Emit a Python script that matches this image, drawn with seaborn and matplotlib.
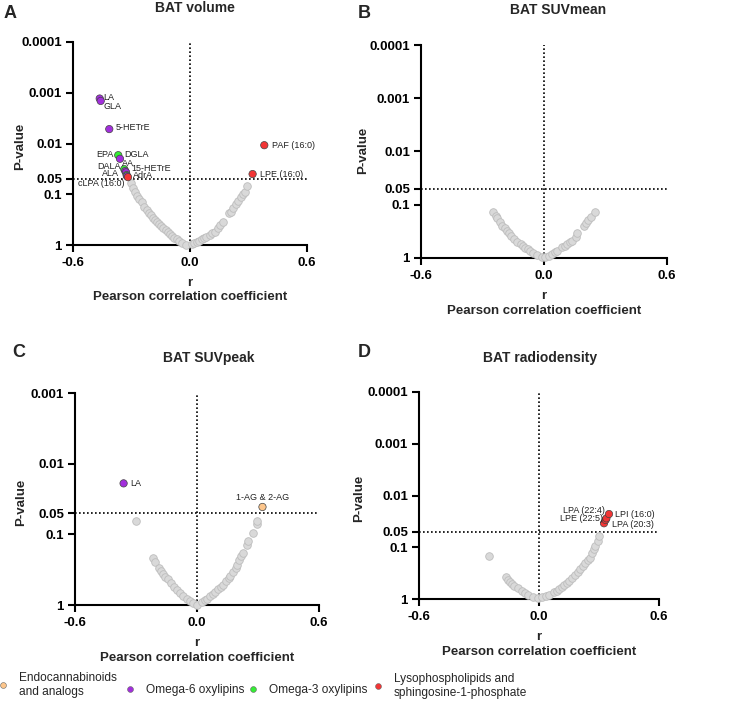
import matplotlib
matplotlib.use("Agg")
import matplotlib.pyplot as plt
from matplotlib.lines import Line2D
from matplotlib.ticker import NullLocator
from matplotlib import font_manager
import pandas as pd
import seaborn as sns

# ---------------- data ----------------
classes = ["Endocannabinoids\nand analogs", "Omega-6 oxylipins", "Omega-3 oxylipins",
           "Lysophospholipids and\nsphingosine-1-phosphate"]
class_colors = ["#FDC68C", "#A22FDC", "#35EC35", "#F23535"]

# Panel A: BAT volume
a_grey_r = [-0.304, -0.294, -0.281, -0.272, -0.260, -0.248, -0.236, -0.222, -0.212, -0.202,
            -0.190, -0.179, -0.168, -0.157, -0.147, -0.137, -0.125, -0.114, -0.104, -0.094,
            -0.080, -0.068, -0.055, -0.043, -0.021,
            0.009, 0.020, 0.034, 0.047, 0.060, 0.070, 0.082, 0.103, 0.115, 0.128, 0.145,
            0.155, 0.168, 0.202, 0.210, 0.222, 0.236, 0.245, 0.260, 0.270, 0.282, 0.294]
a_grey_p = [0.059, 0.076, 0.092, 0.108, 0.125, 0.144, 0.176, 0.204, 0.230, 0.256,
            0.290, 0.321, 0.350, 0.386, 0.430, 0.469, 0.510, 0.562, 0.610, 0.665,
            0.720, 0.773, 0.830, 0.900, 0.980,
            0.970, 0.930, 0.885, 0.830, 0.770, 0.740, 0.706, 0.635, 0.590, 0.546, 0.456,
            0.410, 0.357, 0.238, 0.220, 0.189, 0.156, 0.136, 0.112, 0.100, 0.089, 0.069]
a_hit_names = ["LA", "GLA", "5-HETrE", "EPA", "DGLA", "DALA", "AA", "15-HETrE", "ALA",
               "AdrA", "cLPA (16:0)", "PAF (16:0)", "LPE (16:0)"]
a_hit_r = [-0.463, -0.458, -0.414, -0.368, -0.359, -0.337, -0.332, -0.328, -0.325,
           -0.323, -0.318, 0.381, 0.321]
a_hit_p = [0.0013, 0.00145, 0.0052, 0.017, 0.020, 0.032, 0.035, 0.037, 0.042,
           0.044, 0.046, 0.0108, 0.040]
a_hit_class = [1, 1, 1, 2, 1, 2, 1, 1, 2, 1, 3, 3, 3]

# Panel B: BAT SUVmean
b_grey_r = [-0.247, -0.236, -0.227, -0.215, -0.203, -0.192, -0.182, -0.170, -0.159, -0.145,
            -0.130, -0.114, -0.103, -0.093, -0.080, -0.070, -0.052, -0.032, -0.008,
            0.005, 0.025, 0.041, 0.055, 0.065, 0.090, 0.102, 0.114, 0.127, 0.139, 0.155,
            0.163, 0.195, 0.203, 0.217, 0.228, 0.249]
b_grey_p = [0.135, 0.160, 0.180, 0.214, 0.247, 0.275, 0.307, 0.345, 0.386, 0.440,
            0.494, 0.553, 0.595, 0.640, 0.690, 0.730, 0.790, 0.880, 0.950,
            0.970, 0.900, 0.840, 0.780, 0.730, 0.630, 0.590, 0.550, 0.510, 0.473, 0.409,
            0.344, 0.251, 0.223, 0.194, 0.168, 0.135]

# Panel C: BAT SUVpeak
c_grey_r = [-0.300, -0.218, -0.207, -0.185, -0.177, -0.166, -0.155, -0.144, -0.130, -0.113,
            -0.098, -0.084, -0.068, -0.051, -0.035, -0.021, -0.002,
            0.023, 0.040, 0.051, 0.065, 0.077, 0.090, 0.105, 0.118, 0.130, 0.143, 0.155,
            0.163, 0.179, 0.190, 0.199, 0.209, 0.218, 0.228, 0.245, 0.253, 0.273, 0.294, 0.297]
c_grey_p = [0.065, 0.214, 0.249, 0.300, 0.327, 0.368, 0.400, 0.434, 0.493, 0.562,
            0.620, 0.684, 0.750, 0.830, 0.890, 0.950, 0.990,
            0.900, 0.850, 0.810, 0.750, 0.700, 0.650, 0.600, 0.560, 0.520, 0.453, 0.410,
            0.385, 0.337, 0.300, 0.272, 0.231, 0.205, 0.182, 0.142, 0.123, 0.097, 0.071, 0.065]
c_hit_names = ["LA", "1-AG & 2-AG"]
c_hit_r = [-0.361, 0.322]
c_hit_p = [0.019, 0.041]
c_hit_class = [1, 0]

# Panel D: BAT radiodensity
d_grey_r = [-0.250, -0.163, -0.155, -0.145, -0.135, -0.125, -0.103, -0.083, -0.068, -0.053,
            -0.028, -0.003,
            0.017, 0.035, 0.050, 0.075, 0.088, 0.100, 0.113, 0.125, 0.140, 0.152, 0.165,
            0.180, 0.193, 0.205, 0.218, 0.230, 0.243, 0.255, 0.265, 0.275, 0.282, 0.294, 0.302]
d_grey_p = [0.146, 0.381, 0.420, 0.463, 0.510, 0.552, 0.622, 0.700, 0.770, 0.838,
            0.900, 0.940,
            0.900, 0.870, 0.840, 0.740, 0.690, 0.640, 0.590, 0.536, 0.490, 0.443, 0.390,
            0.344, 0.305, 0.267, 0.235, 0.205, 0.180, 0.159, 0.127, 0.110, 0.095, 0.075, 0.060]
d_hit_names = ["LPA (20:3)", "LPE (22:5)", "LPA (22:4)", "LPI (16:0)"]
d_hit_r = [0.325, 0.333, 0.337, 0.350]
d_hit_p = [0.0344, 0.0297, 0.0276, 0.0228]
d_hit_class = [3, 3, 3, 3]

# ---------------- layout (positions in pixels) ----------------
W, H = 733, 708
label_offsets = {
    "A": {"LA": (4, 1, "left"), "GLA": (3, -6, "left"), "5-HETrE": (6, 2, "left"),
          "EPA": (-5, 1, "right"), "DGLA": (4, 4, "left"), "DALA": (-4, 3, "right"),
          "AA": (-3, 8, "left"), "15-HETrE": (5, 3.5, "left"), "ALA": (-7.5, 2, "right"),
          "AdrA": (6, 1, "left"), "cLPA (16:0)": (-3, -6, "right"),
          "PAF (16:0)": (7.5, 0, "left"), "LPE (16:0)": (7, 0, "left")},
    "C": {"LA": (7, 0, "left"), "1-AG & 2-AG": (0, 9, "center")},
    "D": {"LPI (16:0)": (6, 0, "left"), "LPA (22:4)": (-1.5, 8, "right"),
          "LPE (22:5)": (-3, 1, "right"), "LPA (20:3)": (8, -1, "left")},
}

sns.set_theme(style="ticks")
plt.rcParams["font.family"] = ["Liberation Sans", "DejaVu Sans"]

names_available = {f.name for f in font_manager.fontManager.ttflist}
if "Liberation Sans Narrow" in names_available:
    legend_family, legend_size = ["Liberation Sans Narrow", "DejaVu Sans"], 9.5
else:
    legend_family, legend_size = ["Liberation Sans", "DejaVu Sans"], 8.6

fig = plt.figure(figsize=(W / 100, H / 100), dpi=100)
fig.patch.set_facecolor("white")


def rect(x0, y0, x1, y1):
    return [x0 / W, 1 - y1 / H, (x1 - x0) / W, (y1 - y0) / H]


panels = [
    dict(key="A", rect=rect(73, 42, 307, 245), title="BAT volume", tpos=(195, 8.5),
         lpos=(4, 13), grey=(a_grey_r, a_grey_p),
         hits=(a_hit_names, a_hit_r, a_hit_p, a_hit_class), top=1e-4,
         ylab=(-0.225, 0.484), xlab=-0.222),
    dict(key="B", rect=rect(421, 45, 667, 258), title="BAT SUVmean", tpos=(558, 10),
         lpos=(358, 13), grey=(b_grey_r, b_grey_p), hits=None, top=1e-4,
         ylab=(-0.235, 0.507), xlab=-0.213),
    dict(key="C", rect=rect(75, 393, 319, 605), title="BAT SUVpeak", tpos=(209, 358),
         lpos=(12, 352), grey=(c_grey_r, c_grey_p),
         hits=(c_hit_names, c_hit_r, c_hit_p, c_hit_class), top=1e-3,
         ylab=(-0.222, 0.486), xlab=-0.214),
    dict(key="D", rect=rect(419, 392, 659, 599), title="BAT radiodensity", tpos=(540, 358),
         lpos=(358, 352), grey=(d_grey_r, d_grey_p),
         hits=(d_hit_names, d_hit_r, d_hit_p, d_hit_class), top=1e-4,
         ylab=(-0.25, 0.488), xlab=-0.219),
]

palette = dict(zip(classes, class_colors))
dotted = (0, (1, 1.4))

for pnl in panels:
    ax = fig.add_axes(pnl["rect"])
    ax.set_facecolor("white")
    gr, gp = pnl["grey"]
    grey_df = pd.DataFrame({"r": gr, "p": gp})
    sns.scatterplot(data=grey_df, x="r", y="p", ax=ax, s=30, color="#D9D9D9",
                    edgecolor="#BDBDBD", linewidth=0.6, zorder=3, legend=False)
    if pnl["hits"] is not None:
        hn, hr, hp, hc = pnl["hits"]
        hit_df = pd.DataFrame({"name": hn, "r": hr, "p": hp,
                               "cls": [classes[i] for i in hc]})
        sns.scatterplot(data=hit_df, x="r", y="p", hue="cls", palette=palette, ax=ax,
                        s=28, edgecolor="#444444", linewidth=0.5, zorder=4, legend=False)
        offs = label_offsets[pnl["key"]]
        for name, r, p in zip(hn, hr, hp):
            dx, dy, ha = offs[name]
            ax.annotate(name, (r, p), xytext=(dx, dy), textcoords="offset pixels",
                        ha=ha, va="center", fontsize=6.5, color="#222222", zorder=5)
    for coll in ax.collections:
        coll.set_clip_on(False)

    ax.axhline(0.05, color="black", ls=dotted, lw=1.2, zorder=2)
    ax.axvline(0.0, color="black", ls=dotted, lw=1.2, zorder=2)

    ax.set_yscale("log")
    ax.set_ylim(1, pnl["top"])
    ax.set_xlim(-0.6, 0.6)
    yt = [1, 0.1, 0.05, 0.01, 0.001, 0.0001]
    yl = ["1", "0.1", "0.05", "0.01", "0.001", "0.0001"]
    if pnl["top"] == 1e-3:
        yt, yl = yt[:-1], yl[:-1]
    ax.set_yticks(yt, yl, fontweight="bold", fontsize=9.5)
    ax.yaxis.set_minor_locator(NullLocator())
    ax.set_xticks([-0.6, 0.0, 0.6], ["-0.6", "0.0", "0.6"], fontweight="bold", fontsize=9.5)

    for side in ["top", "right"]:
        ax.spines[side].set_visible(False)
    for side in ["left", "bottom"]:
        ax.spines[side].set_linewidth(1.5)
        ax.spines[side].set_color("black")
    ax.tick_params(axis="both", which="major", direction="out", length=5, width=1.5,
                   color="black", labelcolor="black")
    ax.tick_params(axis="y", pad=3)
    ax.tick_params(axis="x", pad=3.5)

    ax.set_ylabel("P-value", fontweight="bold", fontsize=9.5)
    ax.yaxis.label.set_va("center")
    ax.yaxis.set_label_coords(*pnl["ylab"])
    ax.set_xlabel("r\nPearson correlation coefficient", fontweight="bold", fontsize=9.5,
                  linespacing=1.3)
    ax.xaxis.label.set_va("center")
    ax.xaxis.set_label_coords(0.5, pnl["xlab"])

    fig.text(pnl["tpos"][0] / W, 1 - pnl["tpos"][1] / H, pnl["title"], ha="center",
             va="center", fontweight="bold", fontsize=10)
    fig.text(pnl["lpos"][0] / W, 1 - pnl["lpos"][1] / H, pnl["key"], ha="left",
             va="center", fontweight="bold", fontsize=13)

# ---------------- legend ----------------
legend_anchor = [(0, 685), (127, 690), (250, 690), (375, 686)]
for cls, col, (lx, ly) in zip(classes, class_colors, legend_anchor):
    h = Line2D([], [], marker="o", ls="", markersize=4.2, markerfacecolor=col,
               markeredgecolor="#666666", markeredgewidth=0.4)
    fig.legend(handles=[h], labels=[cls], loc="center left",
               bbox_to_anchor=(lx / W, 1 - ly / H), frameon=False, borderpad=0,
               borderaxespad=0, handlelength=0.5, handletextpad=1.1,
               prop={"family": legend_family, "size": legend_size})

fig.savefig("out.png", dpi=100, facecolor="white")
